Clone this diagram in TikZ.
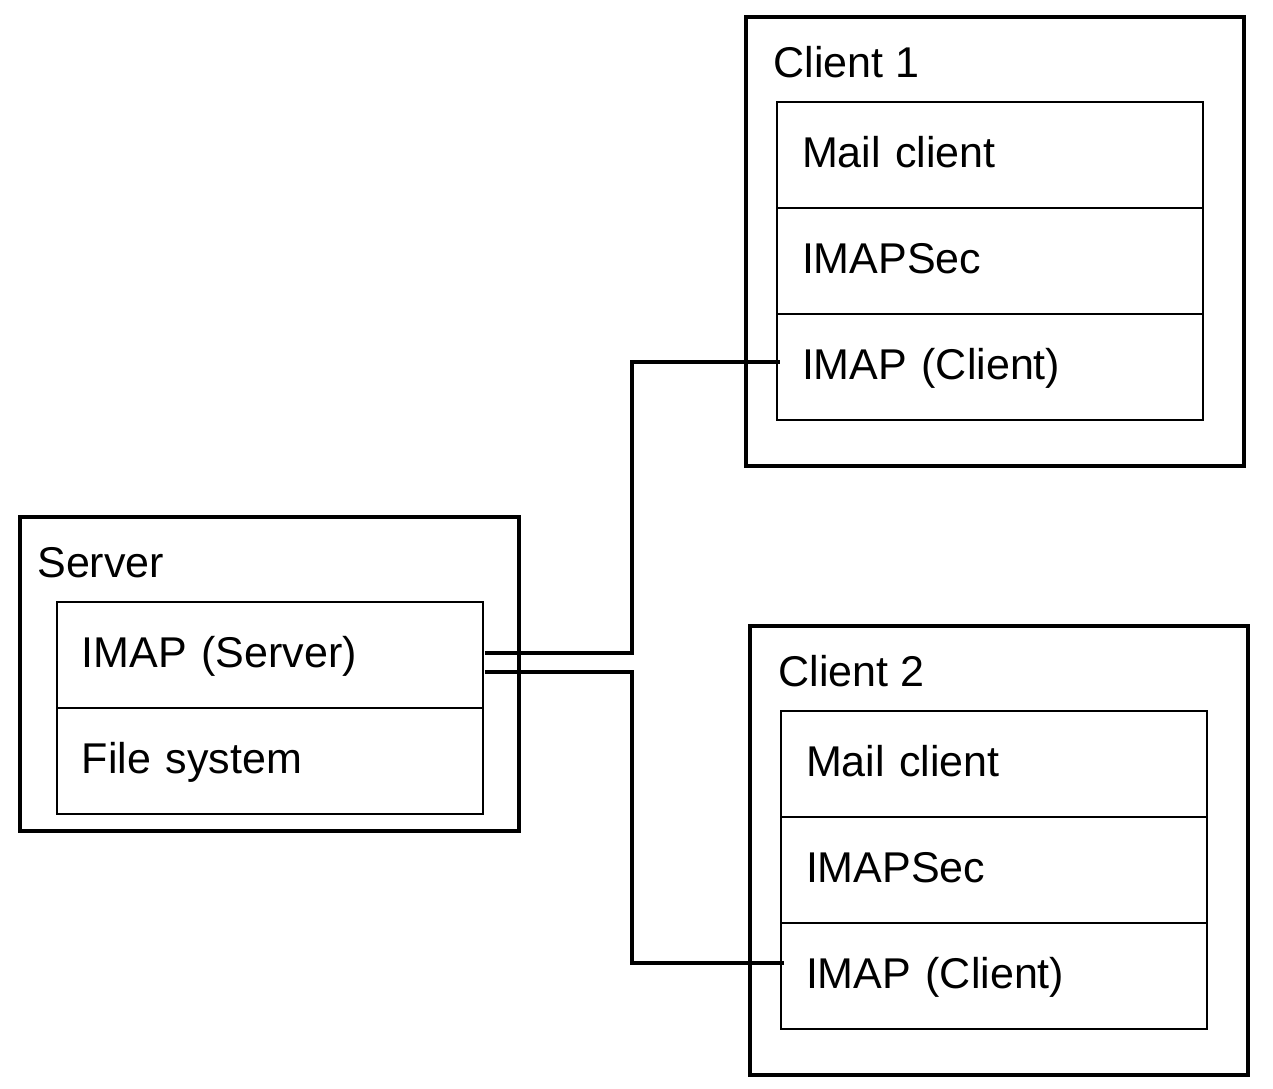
\documentclass[tikz,border=0pt]{standalone}
\usepackage{fontspec}
\setmainfont{Liberation Sans}
\usetikzlibrary{positioning}
\tikzset{
  host/.style={draw,line width=2pt,anchor=north west,minimum width=9.96cm,outer sep=0pt,inner sep=0pt},
  layer/.style={draw,line width=1.1pt,minimum width=8.52cm,minimum height=2.12cm,text width=7.52cm,align=left,inner xsep=0.5cm,outer sep=0pt,text height=0.7cm,text depth=0.2cm,font=\fontsize{24.5}{29}\selectfont},
  hostname/.style={anchor=base west,inner sep=0pt,font=\fontsize{24.5}{29}\selectfont},
  wire/.style={line width=1.8pt}
}
\begin{document}
\begin{tikzpicture}[x=0.02cm,y=-0.02cm]
\useasboundingbox (0,0) rectangle (1273,1088);
% hosts
\node[host,minimum height=8.98cm] (c1) at (746,17) {};
\node[host,minimum height=8.98cm] (c2) at (750,626) {};
\node[host,minimum width=9.98cm,minimum height=6.28cm] (srv) at (20,517) {};
\node[hostname] at (773,78) {Client 1};
\node[hostname] at (778,686) {Client 2};
\node[hostname] at (37,577) {Server};
% client 1 stack
\node[layer,anchor=north west] (c1mail) at (777,102) {Mail client};
\node[layer,below=0pt of c1mail] (c1sec) {IMAPSec};
\node[layer,below=0pt of c1sec] (c1imap) {IMAP (Client)};
% client 2 stack
\node[layer,anchor=north west] (c2mail) at (781,711) {Mail client};
\node[layer,below=0pt of c2mail] (c2sec) {IMAPSec};
\node[layer,below=0pt of c2sec] (c2imap) {IMAP (Client)};
% server stack
\node[layer,anchor=north west] (srvimap) at (57,602) {IMAP (Server)};
\node[layer,below=0pt of srvimap] (srvfs) {File system};
% links
\coordinate (jx) at (632,0);
\coordinate (s1) at ([xshift=0.04cm,yshift=0.04cm]srvimap.east);
\coordinate (s2) at ([xshift=0.04cm,yshift=-0.34cm]srvimap.east);
\coordinate (e1) at ([xshift=0.06cm,yshift=0.1cm]c1imap.west);
\coordinate (e2) at ([xshift=0.06cm,yshift=0.26cm]c2imap.west);
\draw[wire] (s1) -- (s1 -| jx) |- (e1);
\draw[wire] (s2) -- (s2 -| jx) |- (e2);
\end{tikzpicture}
\end{document}
